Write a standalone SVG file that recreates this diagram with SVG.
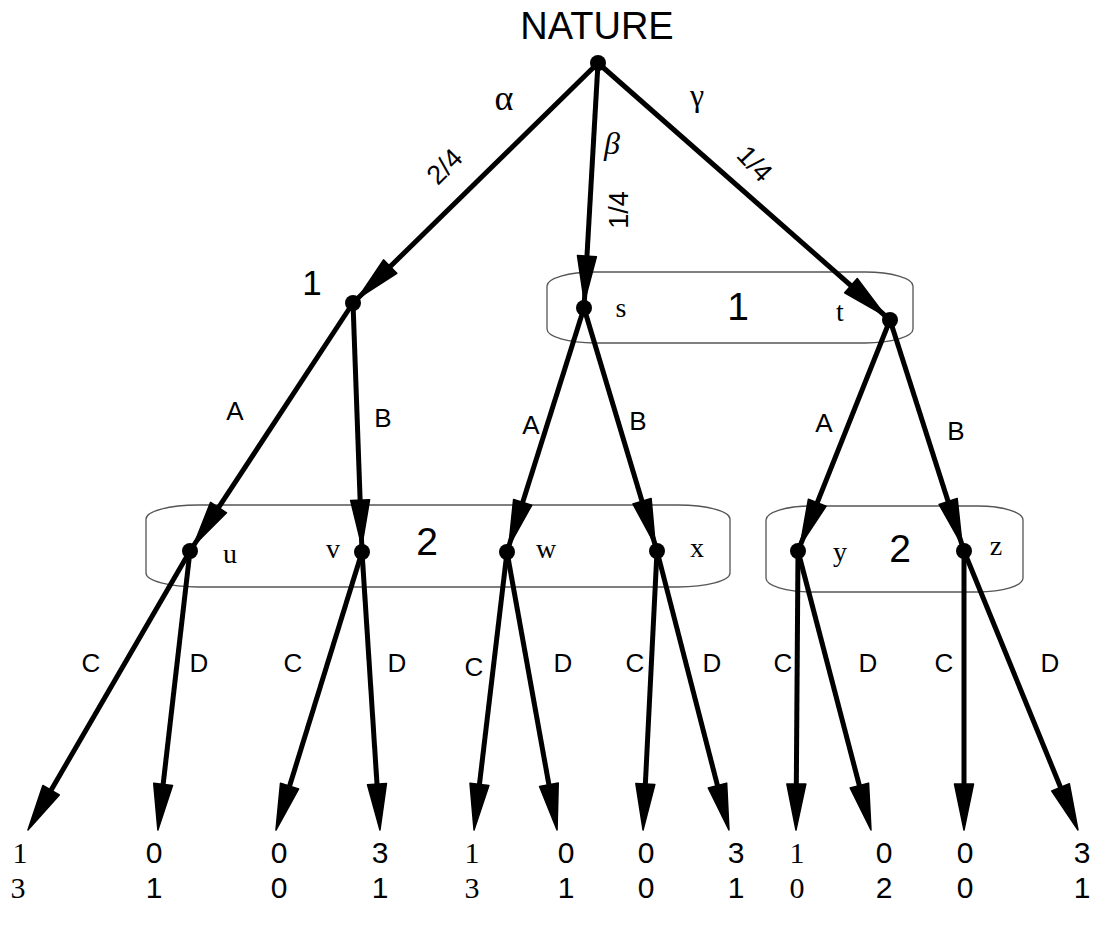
<svg xmlns="http://www.w3.org/2000/svg" width="1102" height="928" viewBox="0 0 1102 928">
<style>
.e{stroke:#000;stroke-width:5;fill:none}
.n{marker-end:url(#ahN)}
.l{marker-end:url(#ahL)}
.dot{fill:#000}
.box{fill:none;stroke:#555;stroke-width:1.3}
.sans{font-family:"Liberation Sans",Arial,sans-serif;fill:#000}
.serif{font-family:"Liberation Serif","Times New Roman",serif;fill:#000}
.lab{font-size:26px;text-anchor:middle}
.num{font-size:30px;text-anchor:middle}
.nm{font-size:28px;text-anchor:middle}
.pl{font-size:39px;text-anchor:middle}
</style>
<defs>
<marker id="ahN" markerUnits="userSpaceOnUse" viewBox="-2 -12 54 24" markerWidth="54" markerHeight="24" refX="52" refY="0" orient="auto" overflow="visible">
<path d="M0,-9.5 L46,0 L0,9.5 Z" fill="#000" stroke="#000" stroke-width="1.5" stroke-linejoin="round"/>
</marker>
<marker id="ahL" markerUnits="userSpaceOnUse" viewBox="-2 -12 54 24" markerWidth="54" markerHeight="24" refX="31" refY="0" orient="auto" overflow="visible">
<path d="M0,-9.5 L46,0 L0,9.5 Z" fill="#000" stroke="#000" stroke-width="1.5" stroke-linejoin="round"/>
</marker>
</defs>

<g id="infosets">
<rect class="box" x="547" y="272" width="366" height="71" rx="48" ry="14"/>
<rect class="box" x="146" y="505" width="584" height="82" rx="52" ry="14"/>
<rect class="box" x="766" y="506" width="257" height="86" rx="45" ry="14"/>
</g>

<g id="connectors">
<line class="e n" x1="598" y1="63" x2="353" y2="303"/>
<line class="e n" x1="598" y1="63" x2="584" y2="308"/>
<line class="e n" x1="598" y1="63" x2="890" y2="320"/>
<line class="e n" x1="353" y1="303" x2="190" y2="551"/>
<line class="e n" x1="353" y1="303" x2="362" y2="552"/>
<line class="e n" x1="584" y1="308" x2="507" y2="552"/>
<line class="e n" x1="584" y1="308" x2="657" y2="551"/>
<line class="e n" x1="890" y1="320" x2="798" y2="551"/>
<line class="e n" x1="890" y1="320" x2="964" y2="551"/>
<line class="e l" x1="190" y1="551" x2="35.5" y2="817"/>
<line class="e l" x1="190" y1="551" x2="159.6" y2="815.1"/>
<line class="e l" x1="362" y1="552" x2="280.4" y2="815.7"/>
<line class="e l" x1="362" y1="552" x2="379" y2="815"/>
<line class="e l" x1="507" y1="552" x2="475.8" y2="815.1"/>
<line class="e l" x1="507" y1="552" x2="554.4" y2="815.2"/>
<line class="e l" x1="657" y1="551" x2="643.8" y2="815"/>
<line class="e l" x1="657" y1="551" x2="725.2" y2="815.5"/>
<line class="e l" x1="798" y1="551" x2="796.1" y2="815"/>
<line class="e l" x1="798" y1="551" x2="867.2" y2="815.5"/>
<line class="e l" x1="964" y1="551" x2="964" y2="815"/>
<line class="e l" x1="964" y1="551" x2="1072.3" y2="816.1"/>
</g>

<g id="edge-labels">
<text class="serif" x="504" y="110" font-size="36" text-anchor="middle">α</text>
<text class="serif" x="612" y="154" font-size="32" font-style="italic" text-anchor="middle">β</text>
<text class="serif" x="697" y="106" font-size="32" text-anchor="middle">γ</text>
<text class="sans" font-size="27" text-anchor="middle" transform="translate(451,173) rotate(-45)">2/4</text>
<text class="sans" font-size="27" text-anchor="middle" transform="translate(628,210) rotate(-90)">1/4</text>
<text class="sans" font-size="27" text-anchor="middle" transform="translate(748,170) rotate(47)">1/4</text>
<text class="sans lab" x="235" y="420">A</text>
<text class="sans lab" x="383" y="427">B</text>
<text class="sans lab" x="531" y="434">A</text>
<text class="sans lab" x="638" y="430">B</text>
<text class="sans lab" x="824" y="432">A</text>
<text class="sans lab" x="956" y="440">B</text>
<text class="sans lab" x="91" y="672">C</text>
<text class="sans lab" x="199" y="672">D</text>
<text class="sans lab" x="293" y="672">C</text>
<text class="sans lab" x="397" y="672">D</text>
<text class="sans lab" x="474" y="676">C</text>
<text class="sans lab" x="563" y="672">D</text>
<text class="sans lab" x="635" y="672">C</text>
<text class="sans lab" x="712" y="672">D</text>
<text class="sans lab" x="783" y="672">C</text>
<text class="sans lab" x="868" y="672">D</text>
<text class="sans lab" x="944" y="672">C</text>
<text class="sans lab" x="1050" y="672">D</text>
</g>

<g id="node-root">
<text class="sans" x="597" y="39" font-size="38" text-anchor="middle">NATURE</text>
<circle class="dot" cx="598" cy="63" r="8"/>
</g>
<g id="node-1">
<text class="sans" x="312" y="295" font-size="35" text-anchor="middle">1</text>
<circle class="dot" cx="353" cy="303" r="8"/>
</g>
<g id="node-s">
<circle class="dot" cx="584" cy="308" r="8"/>
<text class="serif nm" x="621" y="317">s</text>
</g>
<g id="label-set1">
<text class="sans pl" x="738" y="320">1</text>
</g>
<g id="node-t">
<circle class="dot" cx="890" cy="320" r="8"/>
<text class="serif nm" x="840" y="321">t</text>
</g>
<g id="node-u">
<circle class="dot" cx="190" cy="551" r="8"/>
<text class="serif nm" x="230" y="563">u</text>
</g>
<g id="node-v">
<circle class="dot" cx="362" cy="552" r="8"/>
<text class="serif nm" x="333" y="558">v</text>
</g>
<g id="label-set2">
<text class="sans pl" x="427" y="555">2</text>
</g>
<g id="node-w">
<circle class="dot" cx="507" cy="552" r="8"/>
<text class="serif nm" x="546" y="558">w</text>
</g>
<g id="node-x">
<circle class="dot" cx="657" cy="551" r="8"/>
<text class="serif nm" x="697" y="557">x</text>
</g>
<g id="node-y">
<circle class="dot" cx="798" cy="551" r="8"/>
<text class="serif nm" x="840" y="561">y</text>
</g>
<g id="label-set3">
<text class="sans pl" x="900" y="562">2</text>
</g>
<g id="node-z">
<circle class="dot" cx="964" cy="551" r="8"/>
<text class="serif nm" x="996" y="555">z</text>
</g>

<g id="payoffs">
<text class="serif num" x="20" y="863">1</text><text class="serif num" x="18" y="898">3</text>
<text class="sans num" x="154" y="863">0</text><text class="sans num" x="154" y="898">1</text>
<text class="sans num" x="279" y="863">0</text><text class="sans num" x="279" y="898">0</text>
<text class="sans num" x="380" y="863">3</text><text class="sans num" x="380" y="898">1</text>
<text class="serif num" x="472" y="863">1</text><text class="serif num" x="472" y="898">3</text>
<text class="sans num" x="566" y="863">0</text><text class="sans num" x="566" y="898">1</text>
<text class="sans num" x="646" y="863">0</text><text class="sans num" x="646" y="898">0</text>
<text class="sans num" x="736" y="863">3</text><text class="sans num" x="736" y="898">1</text>
<text class="serif num" x="797" y="863">1</text><text class="serif num" x="797" y="898">0</text>
<text class="sans num" x="884" y="863">0</text><text class="sans num" x="884" y="898">2</text>
<text class="sans num" x="965" y="863">0</text><text class="sans num" x="965" y="898">0</text>
<text class="sans num" x="1082" y="863">3</text><text class="sans num" x="1082" y="898">1</text>
</g>
</svg>
